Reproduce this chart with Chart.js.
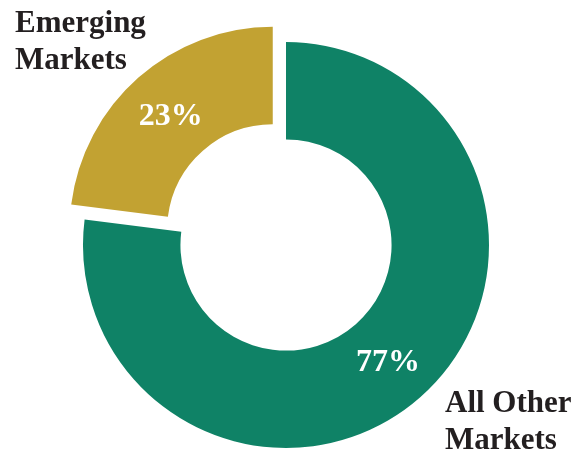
<!DOCTYPE html>
<html>
<head>
<meta charset="utf-8">
<script src="https://cdn.jsdelivr.net/npm/chart.js@4/dist/chart.umd.min.js"></script>
<style>
html,body{margin:0;padding:0;background:#fff;}
#wrap{width:587px;height:452px;position:relative;}
</style>
</head>
<body>
<div id="wrap"><canvas id="c"></canvas></div>
<script>
// Data
const categories = ['All Other Markets', 'Emerging Markets'];
const categoryLines = [['All Other', 'Markets'], ['Emerging', 'Markets']];
const shares = [77, 23];
const sliceColors = ['#0F8266', '#C2A232'];

const labelPlugin = {
  id: 'labels',
  afterDraw(chart) {
    const ctx = chart.ctx;
    const meta = chart.getDatasetMeta(0);
    ctx.save();
    // percent labels at centroid of each (offset) ring segment
    ctx.fillStyle = '#ffffff';
    ctx.font = 'bold 32px "Liberation Serif", "Times New Roman", serif';
    ctx.textAlign = 'center';
    ctx.textBaseline = 'middle';
    meta.data.forEach((arc, i) => {
      const p = arc.getProps(['x','y','startAngle','endAngle','innerRadius','outerRadius']);
      const half = (p.startAngle + p.endAngle) / 2;
      const shift = (arc.options.offset || 0) / 4;
      const r = (p.innerRadius + p.outerRadius) / 2 + shift;
      ctx.fillText(shares[i] + '%', p.x + Math.cos(half) * r, p.y + Math.sin(half) * r + 2);
    });
    // category labels
    ctx.fillStyle = '#231F20';
    ctx.font = 'bold 31px "Liberation Serif", "Times New Roman", serif';
    ctx.textAlign = 'left';
    ctx.textBaseline = 'alphabetic';
    const pos = [[445, 412], [15, 32]];
    categoryLines.forEach((lines, i) => {
      lines.forEach((ln, j) => ctx.fillText(ln, pos[i][0], pos[i][1] + j * 37));
    });
    ctx.restore();
  }
};

new Chart(document.getElementById('c'), {
  type: 'doughnut',
  data: {
    labels: categories,
    datasets: [{
      data: shares,
      backgroundColor: sliceColors,
      borderWidth: 0,
      offset: [0, 80],
      clip: false
    }]
  },
  options: {
    responsive: true,
    maintainAspectRatio: false,
    animation: false,
    events: [],
    radius: 203,
    cutout: '52%',
    layout: { padding: { left: 0, right: 15, top: 38, bottom: 0 } },
    plugins: { legend: { display: false }, tooltip: { enabled: false } }
  },
  plugins: [labelPlugin]
});
</script>
</body>
</html>
